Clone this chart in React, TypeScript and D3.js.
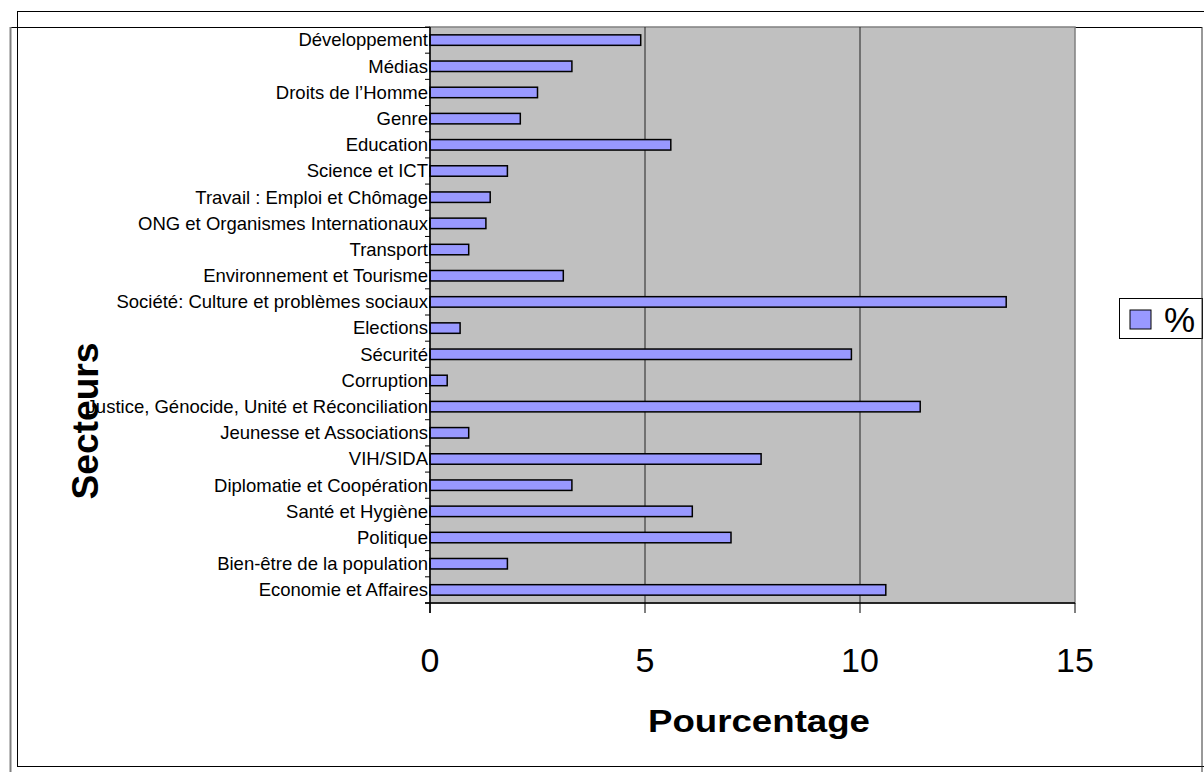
import React from "react";
import * as d3 from "d3";

const categories: string[] = [
  "Développement",
  "Médias",
  "Droits de l’Homme",
  "Genre",
  "Education",
  "Science et ICT",
  "Travail : Emploi et Chômage",
  "ONG et Organismes Internationaux",
  "Transport",
  "Environnement et Tourisme",
  "Société: Culture et problèmes sociaux",
  "Elections",
  "Sécurité",
  "Corruption",
  "Justice, Génocide, Unité et Réconciliation",
  "Jeunesse et Associations",
  "VIH/SIDA",
  "Diplomatie et Coopération",
  "Santé et Hygiène",
  "Politique",
  "Bien-être de la population",
  "Economie et Affaires",
];

const values: number[] = [
  4.9, 3.3, 2.5, 2.1, 5.6, 1.8, 1.4, 1.3, 0.9, 3.1, 13.4, 0.7, 9.8, 0.4, 11.4,
  0.9, 7.7, 3.3, 6.1, 7.0, 1.8, 10.6,
];

const xTicks: number[] = [0, 5, 10, 15];
const seriesName = "%";
const xTitle = "Pourcentage";
const yTitle = "Secteurs";

const W = 1204;
const H = 772;
const plot = { left: 430, right: 1075, top: 27, bottom: 603 };
const FONT = "'Liberation Sans', Arial, Helvetica, sans-serif";

export default function App() {
  const x = d3.scaleLinear().domain([0, 15]).range([plot.left, plot.right]);
  const y = d3
    .scaleBand<string>()
    .domain(categories)
    .range([plot.top, plot.bottom])
    .paddingInner(0.6)
    .paddingOuter(0.3);
  const step = y.step();
  const bandStart = plot.top;
  const boundaries = d3.range(categories.length + 1).map((i) => bandStart + i * step);

  return (
    <svg
      width={W}
      height={H}
      style={{ position: "absolute", left: 0, top: 0, display: "block", background: "#fff" }}
      fontFamily={FONT}
    >
      {/* outer frames */}
      <line x1={18} y1={11.5} x2={W} y2={11.5} stroke="#000" strokeWidth={1} />
      <line x1={17.5} y1={11} x2={17.5} y2={767} stroke="#000" strokeWidth={1} />
      <line x1={18} y1={766.5} x2={W} y2={766.5} stroke="#000" strokeWidth={1} />
      <line x1={10} y1={27.5} x2={1202} y2={27.5} stroke="#000" strokeWidth={1} />
      <line x1={10.5} y1={27} x2={10.5} y2={H} stroke="#808080" strokeWidth={2} />

      {/* plot area */}
      <rect
        x={plot.left}
        y={plot.top}
        width={plot.right - plot.left}
        height={plot.bottom - plot.top}
        fill="#C0C0C0"
        stroke="#808080"
        strokeWidth={1.5}
      />
      {xTicks
        .filter((t) => t > 0 && t < 15)
        .map((t) => (
          <line
            key={"g" + t}
            x1={x(t)}
            x2={x(t)}
            y1={plot.top}
            y2={plot.bottom}
            stroke="#222"
            strokeWidth={1}
          />
        ))}

      {/* bars */}
      {categories.map((c, i) => (
        <rect
          key={"b" + c}
          x={x(0)}
          y={y(c)!}
          width={x(values[i]) - x(0)}
          height={y.bandwidth()}
          fill="#9999FF"
          stroke="#000"
          strokeWidth={1.5}
        />
      ))}

      {/* y axis */}
      <line x1={plot.left} x2={plot.left} y1={plot.top} y2={plot.bottom + 10} stroke="#000" strokeWidth={1.5} />
      {boundaries.map((b, i) => (
        <line key={"yt" + i} x1={plot.left - 5} x2={plot.left} y1={b} y2={b} stroke="#000" strokeWidth={1} />
      ))}

      {/* x axis */}
      <line x1={plot.left - 5} x2={plot.right} y1={plot.bottom} y2={plot.bottom} stroke="#000" strokeWidth={1.5} />
      {xTicks.map((t) => (
        <line key={"xt" + t} x1={x(t)} x2={x(t)} y1={plot.bottom} y2={plot.bottom + 10} stroke="#000" strokeWidth={1} />
      ))}
      {xTicks.map((t) => (
        <text key={"xl" + t} x={x(t)} y={672} textAnchor="middle" fontSize={34} fill="#000">
          {t}
        </text>
      ))}

      {/* category labels */}
      {categories.map((c) => (
        <text
          key={"l" + c}
          x={428}
          y={y(c)! + y.bandwidth() / 2 + 6.4}
          textAnchor="end"
          fontSize={18.5}
          fill="#000"
        >
          {c}
        </text>
      ))}

      {/* axis titles */}
      <text
        x={759}
        y={732}
        textAnchor="middle"
        fontSize={31}
        fontWeight="bold"
        textLength={222}
        lengthAdjust="spacingAndGlyphs"
        fill="#000"
      >
        {xTitle}
      </text>
      <text
        transform="translate(98,421) rotate(-90)"
        textAnchor="middle"
        fontSize={36}
        fontWeight="bold"
        textLength={157}
        lengthAdjust="spacingAndGlyphs"
        fill="#000"
      >
        {yTitle}
      </text>

      {/* legend */}
      <rect x={1119.5} y={298.5} width={83} height={40} fill="#fff" stroke="#000" strokeWidth={1} />
      <rect x={1130} y={310} width={21} height={19} fill="#9999FF" stroke="#000" strokeWidth={1} />
      <text x={1164} y={332} fontSize={35} fill="#000">
        {seriesName}
      </text>

      {/* right frame line */}
      <line x1={1202} y1={27} x2={1202} y2={H} stroke="#333" strokeWidth={1} />
    </svg>
  );
}
